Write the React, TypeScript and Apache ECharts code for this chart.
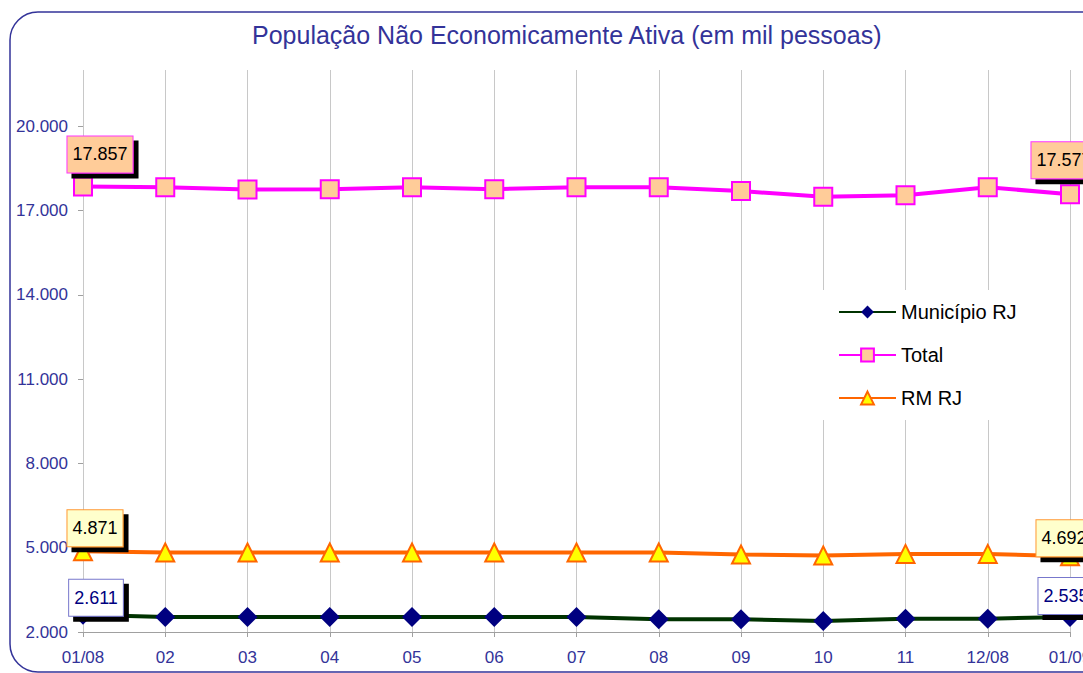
import React, { useEffect, useRef } from "react";
import * as echarts from "echarts";

const categories = ["01/08", "02", "03", "04", "05", "06", "07", "08", "09", "10", "11", "12/08", "01/09"];
const municipioRJ = [2611, 2530, 2530, 2530, 2530, 2530, 2530, 2450, 2450, 2390, 2475, 2475, 2535];
const total = [17857, 17830, 17750, 17760, 17830, 17760, 17830, 17830, 17690, 17490, 17540, 17830, 17577];
const rmRJ = [4871, 4830, 4830, 4830, 4830, 4830, 4830, 4830, 4760, 4720, 4780, 4780, 4692];
const yMin = 2000;
const yMax = 22000;
const yStep = 3000;

const FONT = "'Liberation Sans', Arial, sans-serif";
const AXIS_COLOR = "#333399";

function fmt(v: number): string {
  return String(Math.round(v)).replace(/\B(?=(\d{3})+(?!\d))/g, ".");
}

function buildData(values: number[], labelFirst: any, labelLast: any) {
  return values.map((v, i) => {
    if (i === 0) return { value: v, label: labelFirst };
    if (i === values.length - 1) return { value: v, label: labelLast };
    return v;
  });
}

function boxLabel(bg: string, border: string, color: string, offset: number[]) {
  return {
    show: true,
    position: "inside",
    offset,
    formatter: (p: any) => fmt(p.value),
    color,
    fontFamily: FONT,
    fontSize: 18,
    backgroundColor: bg,
    borderColor: border,
    borderWidth: 1,
    padding: [9, 5, 9, 5],
    shadowColor: "#000",
    shadowBlur: 0,
    shadowOffsetX: 5,
    shadowOffsetY: 5,
  };
}

export default function App() {
  const ref = useRef<HTMLDivElement>(null);

  useEffect(() => {
    if (!ref.current) return;
    const chart = echarts.init(ref.current, null, { renderer: "svg" });

    const option: any = {
      animation: false,
      backgroundColor: "#ffffff",
      title: {
        text: "População Não Economicamente Ativa (em mil pessoas)",
        left: 247,
        top: 17,
        textStyle: { color: AXIS_COLOR, fontFamily: FONT, fontSize: 25, fontWeight: "normal" },
      },
      graphic: [
        {
          type: "rect",
          z: -10,
          shape: { x: 10, y: 12, width: 1110, height: 660, r: 28 },
          style: { fill: "none", stroke: "#333399", lineWidth: 1.5 },
          silent: true,
        },
      ],
      legend: {
        orient: "vertical",
        left: 822,
        top: 290,
        backgroundColor: "#ffffff",
        padding: [12, 18, 12, 16],
        itemWidth: 57,
        itemHeight: 16,
        itemGap: 23,
        textStyle: { color: "#000", fontFamily: FONT, fontSize: 20 },
        data: ["Município RJ", "Total", "RM RJ"],
      },
      grid: { left: 83, right: 13, top: 70, bottom: 41, containLabel: false, outerBoundsMode: "none" },
      xAxis: {
        type: "category",
        data: categories,
        boundaryGap: false,
        axisLine: { show: true, lineStyle: { color: "#a0a0a0", width: 1 } },
        axisTick: { show: true, length: 5, lineStyle: { color: "#a0a0a0" } },
        axisLabel: { color: AXIS_COLOR, fontFamily: FONT, fontSize: 17, margin: 17 },
        splitLine: { show: true, lineStyle: { color: "#c8c8c8", width: 1 } },
      },
      yAxis: {
        type: "value",
        min: yMin,
        max: yMax,
        interval: yStep,
        axisLine: { show: false },
        axisTick: { show: true, length: 5, lineStyle: { color: "#a0a0a0" } },
        axisLabel: {
          color: AXIS_COLOR,
          fontFamily: FONT,
          fontSize: 17,
          margin: 15,
          showMaxLabel: false,
          formatter: (v: number) => fmt(v),
        },
        splitLine: { show: false },
      },
      series: [
        {
          name: "Município RJ",
          type: "line",
          data: buildData(
            municipioRJ,
            boxLabel("#ffffff", "#7777cc", "#000080", [13, -17]),
            boxLabel("#ffffff", "#7777cc", "#000080", [-4, -21])
          ),
          symbol: "diamond",
          symbolSize: 20,
          lineStyle: { color: "#003300", width: 4 },
          itemStyle: { color: "#000080", borderWidth: 0 },
          z: 3,
        },
        {
          name: "Total",
          type: "line",
          data: buildData(
            total,
            boxLabel("#ffcc99", "#ff33ff", "#000000", [17, -32]),
            boxLabel("#ffcc99", "#ff33ff", "#000000", [-6, -34])
          ),
          symbol: "rect",
          symbolSize: 18,
          lineStyle: { color: "#ff00ff", width: 4 },
          itemStyle: { color: "#ffcc99", borderColor: "#ff00ff", borderWidth: 2 },
          z: 3,
        },
        {
          name: "RM RJ",
          type: "line",
          data: buildData(
            rmRJ,
            boxLabel("#ffffcc", "#ff9933", "#000000", [12, -23]),
            boxLabel("#ffffcc", "#ff9933", "#000000", [-6, -18])
          ),
          symbol: "triangle",
          symbolSize: 18,
          lineStyle: { color: "#ff6600", width: 4 },
          itemStyle: { color: "#ffff00", borderColor: "#ff6600", borderWidth: 2 },
          z: 3,
        },
      ],
    };

    chart.setOption(option);
    return () => chart.dispose();
  }, []);

  return (
    <div
      ref={ref}
      style={{ position: "fixed", left: 0, top: 0, width: 1083, height: 673 }}
    />
  );
}
